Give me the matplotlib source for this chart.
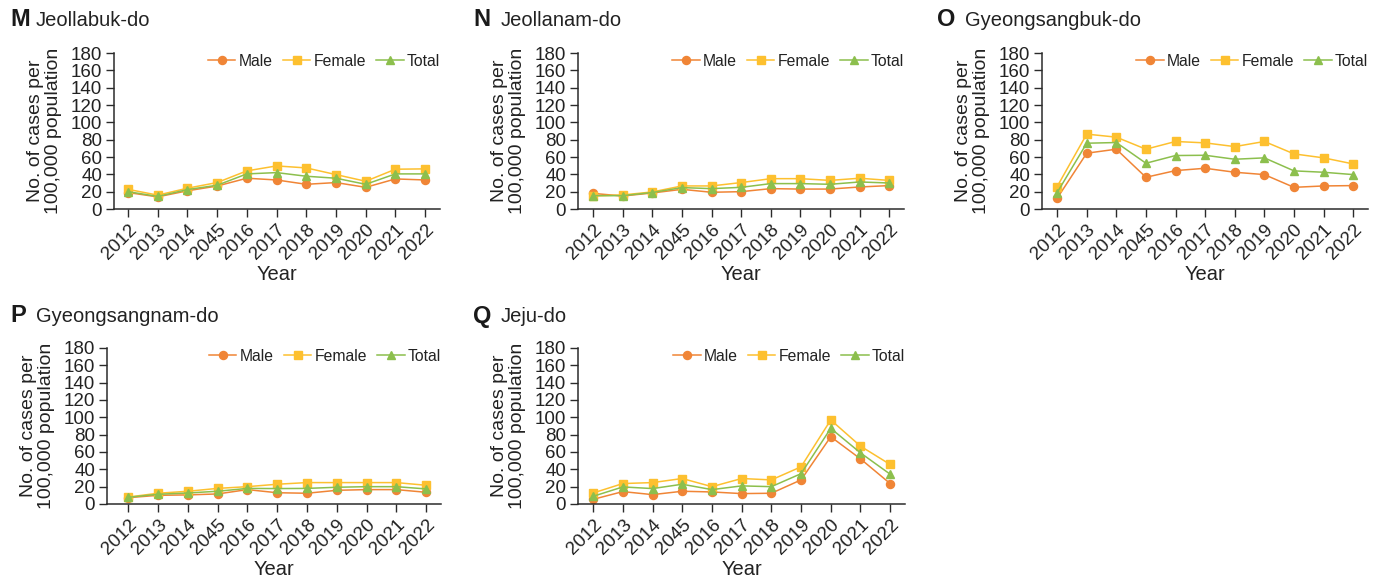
import matplotlib
matplotlib.use("Agg")
import matplotlib.pyplot as plt

plt.rcParams['font.family'] = ['Liberation Sans', 'DejaVu Sans']

years = ['2012', '2013', '2014', '2045', '2016', '2017', '2018', '2019', '2020', '2021', '2022']
series_names = ['Male', 'Female', 'Total']

panel_letters = ['M', 'N', 'O', 'P', 'Q']
panel_titles = ['Jeollabuk-do', 'Jeollanam-do', 'Gyeongsangbuk-do', 'Gyeongsangnam-do', 'Jeju-do']

M_male = [19, 14, 21, 26.5, 35.5, 33.5, 28.5, 30.5, 25, 34.7, 33.5]
M_female = [22.7, 16, 24, 30.5, 44, 49.7, 47.4, 39.7, 32, 45.9, 46.3]
M_total = [20, 14.5, 22.4, 27.4, 40.5, 42, 37.8, 35.5, 28.5, 40.5, 40.5]

N_male = [18, 15, 18.5, 22.7, 19.3, 20, 23.5, 23, 23, 25.4, 27]
N_female = [15, 16.2, 19.7, 26.6, 26.6, 30.5, 35, 35, 33, 35.5, 33]
N_total = [15.4, 15.4, 19, 24.7, 23.5, 25, 29.3, 29.3, 28.5, 31.2, 30]

O_male = [12.3, 64.4, 69, 36.6, 44.3, 47, 42.4, 39.7, 25, 26.6, 27]
O_female = [25.8, 86.4, 82.9, 69, 77.9, 76.3, 72, 77.9, 63.6, 59, 52]
O_total = [18.9, 75.9, 76.7, 52.8, 61.7, 62, 57.4, 59, 44, 42.4, 39.7]

P_male = [7.3, 10, 10.5, 11.6, 16.6, 13, 12.4, 15.8, 16.6, 16.6, 13.5]
P_female = [8, 12.4, 14.7, 18, 20, 22.8, 24.7, 24.7, 24.7, 24.7, 21.6]
P_total = [7.7, 11.2, 12.7, 14.7, 18, 17.8, 18, 19.3, 20, 20, 17.4]

Q_male = [5.4, 14.3, 10.8, 14.7, 13.9, 12, 12.4, 27.8, 77.6, 52.1, 23.6]
Q_female = [12.7, 23.6, 24.7, 29.4, 20, 29.4, 27.8, 42.9, 97, 66.8, 45.6]
Q_total = [8.9, 19.7, 17.8, 22.8, 16.6, 20.9, 20, 35, 87.3, 59, 34.4]

panel_data = [
    (M_male, M_female, M_total),
    (N_male, N_female, N_total),
    (O_male, O_female, O_total),
    (P_male, P_female, P_total),
    (Q_male, Q_female, Q_total),
]

y_ticks = [0, 20, 40, 60, 80, 100, 120, 140, 160, 180]

colors = ['#F08536', '#FDC02F', '#8CBF4D']
markers = ['o', 's', '^']

W, H = 1383, 577
fig = plt.figure(figsize=(W / 100, H / 100), dpi=100)

# layout in pixels: left, right, top, bottom of axes; xlim left; letter x; title x; title y
layout = [
    (114, 440, 53, 209, -0.47, 10, 36, 20),
    (578, 904, 53, 209, -0.51, 473, 501, 20),
    (1042, 1368, 53, 209, -0.51, 937, 965, 20),
    (107, 441, 348, 504, -0.71, 10, 36, 316),
    (578, 905, 348, 504, -0.51, 473, 501, 316),
]

spine_col = '#2b2b2b'
x = list(range(len(years)))

for i, (data, lay) in enumerate(zip(panel_data, layout)):
    l, r, t, b, xl, lx, tx, ty = lay
    ax = fig.add_axes([l / W, 1 - b / H, (r - l) / W, (b - t) / H])
    for vals, name, c, m in zip(data, series_names, colors, markers):
        ms = 6.2 if m == '^' else 5.8
        ax.plot(x, vals, color=c, marker=m, markersize=ms, markeredgecolor=c,
                linewidth=1.1, label=name)
    ax.set_ylim(0, 180)
    ax.set_yticks(y_ticks)
    ax.set_xlim(xl, 10.5)
    ax.set_xticks(x)
    ax.set_xticklabels(years)
    for s in ['top', 'right']:
        ax.spines[s].set_visible(False)
    for s in ['left', 'bottom']:
        ax.spines[s].set_color(spine_col)
        ax.spines[s].set_linewidth(1.1)
    ax.tick_params(axis='both', direction='out', length=5.5, width=1.0,
                   color=spine_col, labelsize=13.5, labelcolor='#222222', pad=3)
    for lab in ax.get_xticklabels():
        lab.set_rotation(45)
        lab.set_ha('right')
        lab.set_rotation_mode('anchor')
    ax.set_ylabel('No. of cases per\n100,000 population', fontsize=14,
                  color='#222222', linespacing=1.1, labelpad=6)
    ax.set_xlabel('Year', fontsize=14.5, color='#222222', labelpad=2)
    leg = ax.legend(loc='upper right', bbox_to_anchor=(1.0, 0.995), ncol=3,
                    frameon=False, fontsize=11.3, handlelength=1.75,
                    handletextpad=0.2, columnspacing=0.65, borderpad=0,
                    borderaxespad=0)
    for txt in leg.get_texts():
        txt.set_color('#222222')
    fig.text(lx / W, 1 - ty / H, panel_letters[i], fontsize=17, fontweight='bold',
             va='center', ha='left', color='#1a1a1a')
    fig.text(tx / W, 1 - ty / H, panel_titles[i], fontsize=14.5,
             va='center', ha='left', color='#222222')

fig.savefig('out.png', dpi=100)
